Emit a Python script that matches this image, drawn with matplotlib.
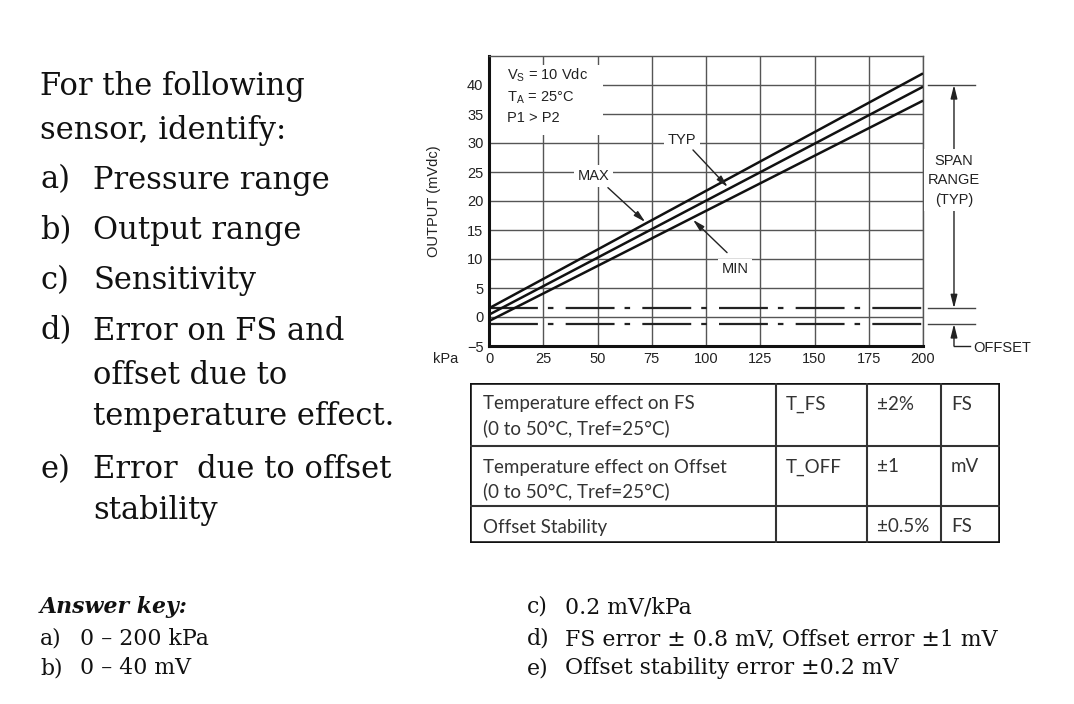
import matplotlib
matplotlib.use('Agg')
import numpy as np
import matplotlib.pyplot as plt
import matplotlib.transforms as mtransforms
from matplotlib.patches import Rectangle

# ---------------- data ----------------
pressure = [0, 200]              # kPa
out_max = [1.5, 42.0]            # mVdc
out_typ = [0.4, 39.7]
out_min = [-0.7, 37.3]
offset_hi = 1.5
offset_lo = -1.2
span_top = 40
x_ticks = [0, 25, 50, 75, 100, 125, 150, 175, 200]
y_ticks = [-5, 0, 5, 10, 15, 20, 25, 30, 35, 40]
conditions = "V$_\\mathregular{S}$ = 10 Vdc\nT$_\\mathregular{A}$ = 25°C\nP1 > P2"

question_lines = [
    ("", "For the following"),
    ("", "sensor, identify:"),
    ("a)", "Pressure range"),
    ("b)", "Output range"),
    ("c)", "Sensitivity"),
    ("d)", "Error on FS and"),
    ("", "offset due to"),
    ("", "temperature effect."),
    ("e)", "Error  due to offset"),
    ("", "stability"),
]
question_y = [86, 130, 180, 231, 281, 331, 376, 417, 470, 511]
question_indent = [False, False, True, True, True, True, True, True, True, True]

answers_left = [("a)", "0 – 200 kPa"), ("b)", "0 – 40 mV")]
answers_right = [("c)", "0.2 mV/kPa"),
                 ("d)", "FS error ± 0.8 mV, Offset error ±1 mV"),
                 ("e)", "Offset stability error ±0.2 mV")]

table_rows = [
    ["Temperature effect on FS", "(0 to 50°C, Tref=25°C)"],
    ["Temperature effect on Offset", "(0 to 50°C, Tref=25°C)"],
    ["Offset Stability"],
]
table_symbol = ["T_FS", "T_OFF", ""]
table_value = ["±2%", "±1", "±0.5%"]
table_unit = ["FS", "mV", "FS"]

# ---------------- figure ----------------
W, H = 1074, 704
fig = plt.figure(figsize=(W / 100, H / 100), dpi=100)
fig.patch.set_facecolor('white')

def fx(x):
    return x / W

def fy(y):
    return 1 - y / H

SERIF = 'DejaVu Serif'
SANS = 'Liberation Sans'
QSIZE = 22
ASIZE = 15.8

# ---- left question text ----
for (lab, txt), y, ind in zip(question_lines, question_y, question_indent):
    if lab:
        fig.text(fx(40), fy(y), lab, fontsize=QSIZE, family=SERIF, va='center', ha='left', color='#111')
    fig.text(fx(93) if ind else fx(40), fy(y), txt, fontsize=QSIZE, family=SERIF,
             va='center', ha='left', color='#111')

# ---- answer key ----
fig.text(fx(40), fy(607), "Answer key:", fontsize=ASIZE, family=SERIF, weight='bold',
         style='italic', va='center', ha='left', color='#111')
for (lab, txt), y in zip(answers_left, [639, 668]):
    fig.text(fx(40), fy(y), lab, fontsize=ASIZE, family=SERIF, va='center', color='#111')
    fig.text(fx(80), fy(y), txt, fontsize=ASIZE, family=SERIF, va='center', color='#111')
for (lab, txt), y in zip(answers_right, [607, 639, 668]):
    fig.text(fx(527), fy(y), lab, fontsize=ASIZE, family=SERIF, va='center', color='#111')
    fig.text(fx(565), fy(y), txt, fontsize=ASIZE, family=SERIF, va='center', color='#111')

# ---- chart ----
ax = fig.add_axes([fx(489), fy(346), fx(923) - fx(489), fy(56) - fy(346)])
ax.set_xlim(0, 200)
ax.set_ylim(-5, 45)
ax.set_xticks(x_ticks)
ax.set_yticks(y_ticks)
ax.grid(True, color='#555', lw=1.0)
ax.tick_params(length=0, pad=4, labelsize=10.5, colors='#222')
for t in ax.get_xticklabels() + ax.get_yticklabels():
    t.set_family(SANS)
for s in ['left', 'bottom']:
    ax.spines[s].set_linewidth(2.2)
    ax.spines[s].set_color('#111')
for s in ['top', 'right']:
    ax.spines[s].set_linewidth(1.0)
    ax.spines[s].set_color('#555')

ax.set_ylabel("OUTPUT (mVdc)", fontsize=10.5, family=SANS, color='#222')
ax.yaxis.set_label_coords(-0.11, 0.5)
ax.text(-0.101, -0.019, "kPa", transform=ax.transAxes, ha='center', va='top',
        fontsize=10.5, family=SANS, color='#222')

for ys in (out_max, out_typ, out_min):
    ax.plot(pressure, ys, color='#111', lw=1.8, zorder=3, solid_capstyle='butt')

dash = (0, (22, 4.5, 2.5, 5.5))
ax.axhline(offset_hi, color='#222', lw=1.6, ls=dash, zorder=2.5)
ax.axhline(offset_lo, color='#222', lw=1.6, ls=dash, zorder=2.5)

# condition block
ax.add_patch(Rectangle((0.003, 0.728), 0.26, 0.24, transform=ax.transAxes,
                       facecolor='white', edgecolor='none', zorder=1.8))
ax.text(8.3, 43.3, conditions, ha='left', va='top', fontsize=10.5, family=SANS,
        linespacing=1.45, color='#222', zorder=4)

bb = dict(boxstyle='square,pad=0.25', fc='white', ec='none')
arrow = dict(arrowstyle='-|>,head_length=0.7,head_width=0.18', color='#222', lw=1.0,
             shrinkA=0, shrinkB=0)

ax.text(89, 30.5, "TYP", ha='center', va='center', fontsize=10.5, family=SANS, color='#222', bbox=bb, zorder=4)
ax.annotate("", xy=(110, np.interp(110, pressure, out_typ) + 0.4), xytext=(94, 28.8),
            arrowprops=arrow, zorder=4)

ax.text(48, 24.3, "MAX", ha='center', va='center', fontsize=10.5, family=SANS, color='#222', bbox=bb, zorder=4)
ax.annotate("", xy=(72, np.interp(72, pressure, out_max) + 0.3), xytext=(54.8, 22.3),
            arrowprops=arrow, zorder=4)

ax.text(113.4, 8.2, "MIN", ha='center', va='center', fontsize=10.5, family=SANS, color='#222', bbox=bb, zorder=4)
ax.annotate("", xy=(94, np.interp(94, pressure, out_min) - 0.4), xytext=(109.7, 11.1),
            arrowprops=arrow, zorder=4)

# right-side span / offset annotations
trans = mtransforms.blended_transform_factory(ax.transAxes, ax.transData)
xa = 1.0714
for yv in (span_top, offset_hi, offset_lo):
    ax.plot([1.0115, 1.12], [yv, yv], transform=trans, clip_on=False, color='#444', lw=1.0)
ax.annotate("", xy=(xa, span_top), xytext=(xa, offset_hi), xycoords=trans, textcoords=trans,
            arrowprops=dict(arrowstyle='<|-|>,head_length=0.8,head_width=0.2', color='#222',
                            lw=1.0, shrinkA=0, shrinkB=0), annotation_clip=False, zorder=3)
ax.text(xa, 23.6, "SPAN\nRANGE\n(TYP)", transform=trans, ha='center', va='center',
        fontsize=10.5, family=SANS, color='#222', linespacing=1.5,
        bbox=dict(boxstyle='square,pad=0.3', fc='white', ec='none'), zorder=5, clip_on=False)
ax.annotate("", xy=(xa, offset_lo), xytext=(xa, -5.0), xycoords=trans, textcoords=trans,
            arrowprops=dict(arrowstyle='-|>,head_length=0.8,head_width=0.2', color='#222',
                            lw=1.0, shrinkA=0, shrinkB=0), annotation_clip=False)
ax.plot([xa, 1.108], [-5.0, -5.0], transform=trans, clip_on=False, color='#222', lw=1.0)
ax.text(1.115, -5.3, "OFFSET", transform=trans, ha='left', va='center', fontsize=10.5,
        family=SANS, color='#222', clip_on=False)

# ---- table ----
tab = fig.add_axes([fx(470), fy(543), fx(1000) - fx(470), fy(383) - fy(543)])
tab.set_xlim(0, 530)
tab.set_ylim(160, 0)
tab.axis('off')
col_edges = [0, 306, 397, 471, 530]
row_edges = [0, 63, 123, 160]
for x in col_edges[1:-1]:
    tab.plot([x, x], [0, 160], color='#333', lw=1.5)
for y in row_edges[1:-1]:
    tab.plot([0, 530], [y, y], color='#333', lw=1.5)
tab.add_patch(Rectangle((0, 0), 530, 160, fill=False, ec='#111', lw=2.6))

TF = 'Lato'
TS = 13.5
for i in range(3):
    top = row_edges[i]
    for j, line in enumerate(table_rows[i]):
        tab.text(13, top + 21 + 24 * j, line, fontsize=TS, family=TF, color='#333', va='center', ha='left')
    for cx, txt in zip(col_edges[1:4], [table_symbol[i], table_value[i], table_unit[i]]):
        if txt:
            tab.text(cx + 10, top + 21, txt, fontsize=TS, family=TF, color='#333', va='center', ha='left')

fig.savefig('out.png', dpi=100, facecolor='white')
